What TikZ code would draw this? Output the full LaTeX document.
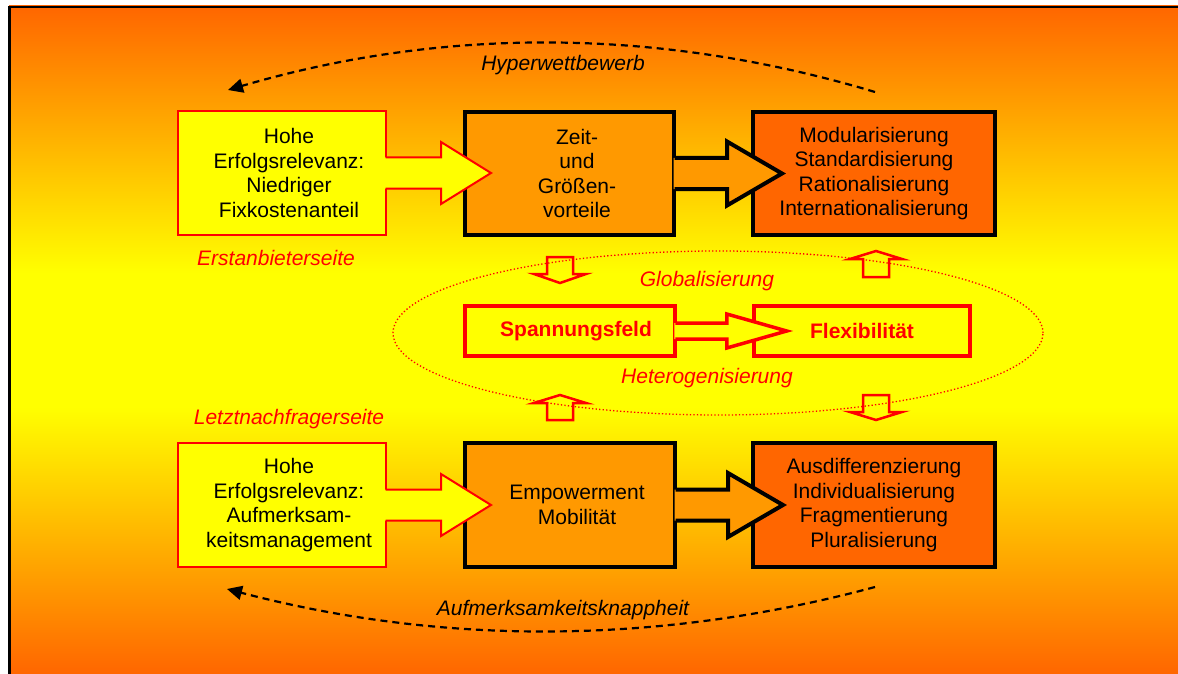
\documentclass[tikz,border=0pt]{standalone}
\usepackage{fontspec}
\setmainfont{Liberation Sans}
\usetikzlibrary{arrows.meta,calc}
\definecolor{bgorange}{HTML}{FF6600}
\definecolor{midorange}{HTML}{FF9900}
\definecolor{deeporange}{HTML}{FF6600}
\definecolor{ylw}{HTML}{FFFF00}
\definecolor{rd}{HTML}{FF0000}
\pgfdeclareverticalshading{bgshade}{100bp}{color(0bp)=(bgorange); color(25bp)=(bgorange); color(45bp)=(ylw); color(55bp)=(ylw); color(75bp)=(bgorange); color(100bp)=(bgorange)}
% #1 fill colour, #2 draw options, #3 start anchor, #4 body length,
% #5 body half width, #6 head length, #7 head half width
\newcommand\blkarrow[7]{%
  \fill[fill=#1] ($(#3)+(-2.5,-#5)$) -- ($(#3)+(#4,-#5)$) -- ($(#3)+(#4,-#7)$)
    -- ($(#3)+(#4+#6,0)$) -- ($(#3)+(#4,#7)$) -- ($(#3)+(#4,#5)$)
    -- ($(#3)+(-2.5,#5)$) -- cycle;
  \draw[#2, line join=miter] ($(#3)+(-1.5,-#5)$) -- ($(#3)+(#4,-#5)$) -- ($(#3)+(#4,-#7)$)
    -- ($(#3)+(#4+#6,0)$) -- ($(#3)+(#4,#7)$) -- ($(#3)+(#4,#5)$)
    -- ($(#3)+(-1.5,#5)$);}
\begin{document}
\begin{tikzpicture}[x=1pt,y=-1pt,
  txt/.style={font=\fontsize{21}{24.5}\selectfont, align=center, inner sep=0pt},
  lbl/.style={font=\fontsize{21}{24.5}\selectfont\itshape, inner sep=0pt},
  hdl/.style={font=\fontsize{21}{24.5}\selectfont\bfseries, text=rd, inner sep=0pt},
  ybox/.style={draw=rd, line width=2pt, fill=ylw, minimum width=208pt, minimum height=123pt, inner sep=0pt},
  obox/.style={draw=black, line width=4pt, fill=midorange, minimum width=209pt, minimum height=123pt, inner sep=0pt},
  rbox/.style={draw=black, line width=4pt, fill=deeporange, minimum width=242pt, minimum height=123pt, inner sep=0pt},
  sbox/.style={draw=rd, line width=3.5pt, fill=ylw, minimum height=50pt, inner sep=0pt},
  dashline/.style={line width=2.2pt, dash pattern=on 7pt off 5pt, -{Triangle[length=15pt,width=14pt]}},
  smallarrow/.style={draw=rd, line width=2.5pt, line join=miter},
  ell/.style={draw=rd, line width=1.3pt, dash pattern=on 1.3pt off 2.2pt}
]
\useasboundingbox (0,0) rectangle (1178,674);
% background
\fill[white] (0,0) rectangle (1178,674);
\shade[shading=bgshade] (9,6) rectangle (1178,674);
\draw[line width=2.5pt] (9.5,674) -- (9.5,7) -- (1178,7);

% top row
\node[ybox] (A) at (282,173) {};
\node[obox] (B) at (569.5,173.5) {};
\blkarrow{ylw}{draw=rd,line width=2pt}{A.east}{54}{15.5}{50}{31}
\node[rbox] (C) at (874,173.5) {};
\blkarrow{midorange}{draw=black,line width=4pt}{B.east}{51}{15.5}{55}{32}

% bottom row
\node[ybox, minimum height=124pt] (D) at (282,505) {};
\node[obox, minimum height=124pt, minimum width=210pt] (E) at (570,505) {};
\blkarrow{ylw}{draw=rd,line width=2pt}{D.east}{54}{15.5}{50}{31}
\node[rbox, minimum height=124pt] (F) at (874,505) {};
\blkarrow{midorange}{draw=black,line width=4pt}{E.east}{51}{15.5}{55}{32}

% middle
\node[sbox, minimum width=210pt] (S) at (570,331) {};
\node[sbox, minimum width=216pt] (X) at (862,331) {};
\blkarrow{ylw}{draw=rd,line width=3.5pt}{S.east}{50}{8}{60}{17}
\draw[ell] (718,333) ellipse [x radius=325pt, y radius=82pt];

% small block arrows
\draw[smallarrow] (547,257) -- (573,257) -- (573,274) -- (586,274) -- (560,283) -- (534,274) -- (547,274) -- cycle;
\draw[smallarrow] (863,277) -- (863,259) -- (850,259) -- (876,251) -- (902,259) -- (889,259) -- (889,277) -- cycle;
\draw[smallarrow] (547,420) -- (547,403) -- (534,403) -- (560,395) -- (586,403) -- (573,403) -- (573,420) -- cycle;
\draw[smallarrow] (863,395) -- (889,395) -- (889,412) -- (902,412) -- (876,420) -- (850,412) -- (863,412) -- cycle;

% texts
\node[txt] (At) at (289,173) {Hohe\\Erfolgsrelevanz:\\Niedriger\\Fixkostenanteil};
\node[txt] (Bt) at (577,173.5) {Zeit-\\und\\Größen-\\vorteile};
\node[txt] (Ct) at (C.center) {Modularisierung\\Standardisierung\\Rationalisierung\\Internationalisierung};
\node[txt] (Dt) at (289,505) {Hohe\\Erfolgsrelevanz:\\Aufmerksam-\\keitsmanagement};
\node[txt] (Et) at (577,505) {Empowerment\\Mobilität};
\node[txt] (Ft) at (F.center) {Ausdifferenzierung\\Individualisierung\\Fragmentierung\\Pluralisierung};
\node[hdl] (St) at (576,331) {Spannungsfeld};
\node[hdl] (Xt) at (862,331) {Flexibilität};

% labels
\node[lbl, text=rd] (l1) at (276,258) {Erstanbieterseite};
\node[lbl, text=rd] (l2) at (289,419) {Letztnachfragerseite};
\node[lbl, text=rd] (l3) at (707,281) {Globalisierung};
\node[lbl, text=rd] (l4) at (707,378) {Heterogenisierung};
\node[lbl] (l5) at (563,65) {Hyperwettbewerb};
\node[lbl] (l6) at (563,610) {Aufmerksamkeitsknappheit};

% dashed cycles
\coordinate (h1) at (875,92);
\coordinate (h2) at (228,90);
\coordinate (k1) at (875,587);
\coordinate (k2) at (227,589);
\draw[dashline] (h1) .. controls (659.3,27.3) and (443.7,26.7) .. (h2);
\draw[dashline] (k1) .. controls (659,645) and (443,645.7) .. (k2);
\end{tikzpicture}
\end{document}
